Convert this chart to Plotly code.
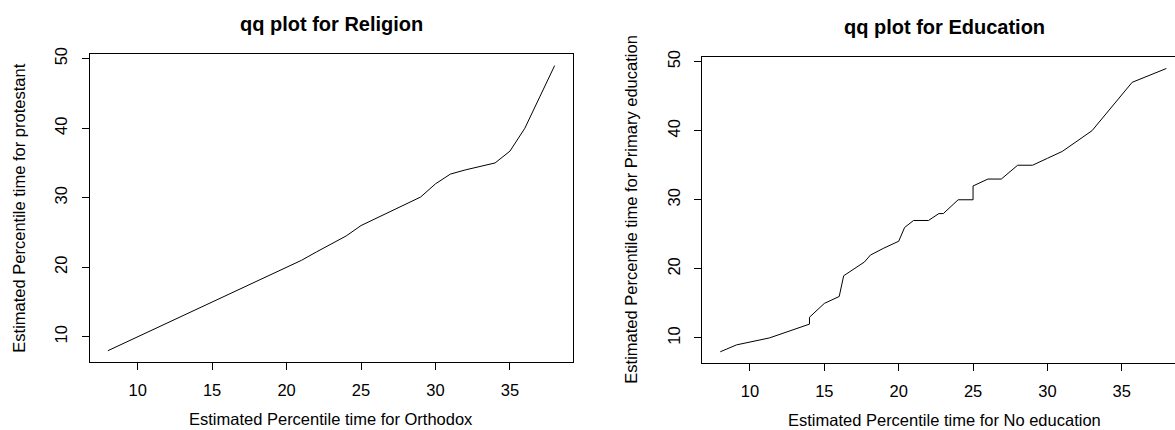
import plotly.graph_objects as go

W, H = 1175, 430

# Religion: estimated percentile times, Orthodox vs protestant
rel_orthodox = [8, 9, 10, 11, 12, 13, 14, 15, 16, 17, 18, 19, 20, 21, 22, 23, 24,
                25, 26, 27, 28, 29, 30, 31, 32, 33, 34, 35, 36, 37, 38]
rel_protestant = [8, 9, 10, 11, 12, 13.1, 14, 15.1, 16, 17.1, 18, 19.1, 20, 21, 22.2, 23.3, 24.5,
                  26, 27, 28, 29, 30.1, 32, 33.4, 34, 34.5, 35, 36.7, 40, 44.5, 49]

# Education: estimated percentile times, No education vs Primary education
edu_none = [8, 9.1, 11.3, 12.6, 14, 14, 15, 16, 16.3, 17.7, 18.1, 19, 20, 20.4, 21, 22,
            22.7, 23, 24, 25, 25, 26, 26.9, 28, 29, 30, 31, 33, 35.7, 38]
edu_primary = [8, 9, 10, 11, 12, 13, 15, 16, 19, 21, 22, 23, 24, 26, 27, 27,
               28, 28, 30, 30, 32, 33, 33, 35, 35, 36, 37, 40, 47, 49]

x_ticks = [10, 15, 20, 25, 30, 35]
y_ticks = [10, 20, 30, 40, 50]

titles = ["qq plot for Religion", "qq plot for Education"]
x_labels = ["Estimated Percentile time for Orthodox", "Estimated Percentile time for No education"]
y_labels = ["Estimated Percentile time for protestant", "Estimated Percentile time for Primary education"]

FONT = "Liberation Sans, Arial, sans-serif"
TXT = 16.5


def px_x(p):
    return p / W


def px_y(p):
    return 1 - p / H


fig = go.Figure()
fig.add_trace(go.Scatter(x=rel_orthodox, y=rel_protestant, mode="lines",
                         line=dict(color="black", width=1), xaxis="x", yaxis="y",
                         showlegend=False, hoverinfo="skip"))
fig.add_trace(go.Scatter(x=edu_none, y=edu_primary, mode="lines",
                         line=dict(color="black", width=1), xaxis="x2", yaxis="y2",
                         showlegend=False, hoverinfo="skip"))

common_x = dict(tickmode="array", tickvals=x_ticks, ticks="outside", ticklen=7,
                tickcolor="black", showline=True, linecolor="black", linewidth=1,
                showgrid=False, zeroline=False, ticklabelstandoff=6,
                tickfont=dict(family=FONT, size=TXT, color="black"))
common_y = dict(tickmode="array", tickvals=y_ticks, ticks="outside", ticklen=7,
                tickcolor="black", showline=True, linecolor="black", linewidth=1,
                showgrid=False, zeroline=False, tickangle=-90, ticklabelstandoff=8,
                tickfont=dict(family=FONT, size=TXT, color="black"))

fig.update_layout(
    width=W, height=H,
    margin=dict(l=0, r=0, t=0, b=0),
    paper_bgcolor="white", plot_bgcolor="white",
    xaxis=dict(domain=[px_x(90), px_x(572.5)], range=[6.8, 39.2], mirror=True,
               anchor="y", **common_x),
    yaxis=dict(domain=[px_y(361), px_y(48)], range=[6.36, 50.64], mirror=True,
               anchor="x", **common_y),
    xaxis2=dict(domain=[px_x(702.4), 1.0], range=[6.8, 38.58], mirror=True,
                anchor="y2", **common_x),
    yaxis2=dict(domain=[px_y(362), px_y(51)], range=[6.36, 50.64], mirror=False,
                anchor="x2", **common_y),
)

ann = []
# panel titles
for txt, cx, cy in zip(titles, [331, 944], [17, 20]):
    ann.append(dict(text=f"<b>{txt}</b>", x=px_x(cx), y=px_y(cy), xref="paper", yref="paper",
                    showarrow=False, xanchor="center", yanchor="middle",
                    font=dict(family=FONT, size=20, color="black")))
# x axis titles
for txt, cx, cy in zip(x_labels, [331, 944], [419, 420]):
    ann.append(dict(text=txt, x=px_x(cx), y=px_y(cy), xref="paper", yref="paper",
                    showarrow=False, xanchor="center", yanchor="middle",
                    font=dict(family=FONT, size=TXT, color="black")))
# y axis titles
for txt, cx, cy in zip(y_labels, [19, 631], [205, 206]):
    ann.append(dict(text=txt, x=px_x(cx), y=px_y(cy), xref="paper", yref="paper",
                    showarrow=False, xanchor="center", yanchor="middle", textangle=-90,
                    font=dict(family=FONT, size=TXT, color="black")))
fig.update_layout(annotations=ann)

fig.write_html("out.html")
